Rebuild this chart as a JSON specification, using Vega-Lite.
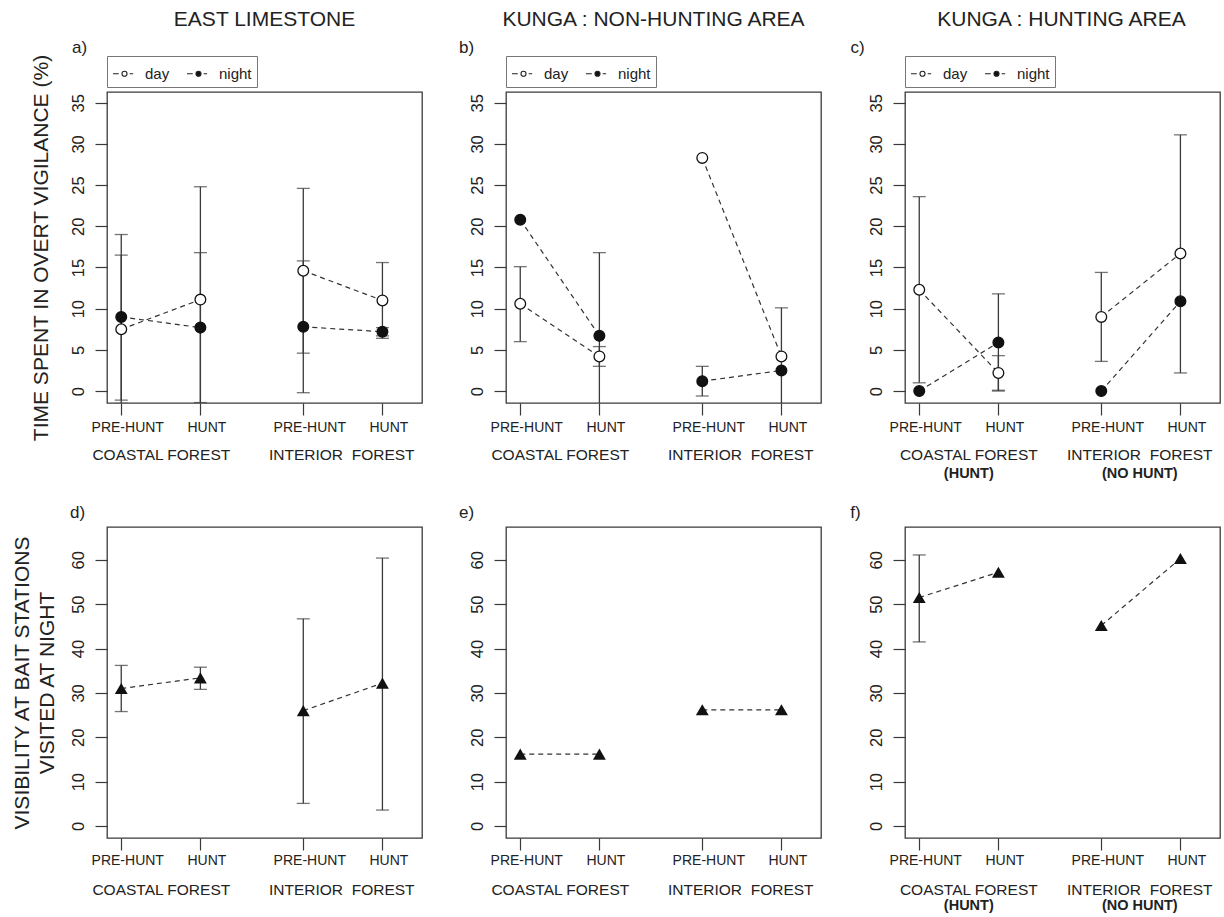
{
  "$schema": "https://vega.github.io/schema/vega-lite/v6.json",
  "background": "white",
  "padding": {"left": 10, "top": 8, "right": 0, "bottom": 0},
  "spacing": 21,
  "resolve": {"scale": {"fill": "independent"}, "legend": {"fill": "independent"}},
  "datasets": {
    "vig": [
      {"panel": "a", "forest": "COASTAL", "period": "PRE-HUNT", "pos": 1, "series": "day", "mean": 7.5, "lo": -1.5, "hi": 16.5},
      {"panel": "a", "forest": "COASTAL", "period": "HUNT", "pos": 2, "series": "day", "mean": 11.1, "lo": -2.6, "hi": 24.8},
      {"panel": "a", "forest": "INTERIOR", "period": "PRE-HUNT", "pos": 3.3, "series": "day", "mean": 14.6, "lo": 4.6, "hi": 24.6},
      {"panel": "a", "forest": "INTERIOR", "period": "HUNT", "pos": 4.3, "series": "day", "mean": 11.0, "lo": 6.4, "hi": 15.6},
      {"panel": "a", "forest": "COASTAL", "period": "PRE-HUNT", "pos": 1, "series": "night", "mean": 9.0, "lo": -1.1, "hi": 19.0},
      {"panel": "a", "forest": "COASTAL", "period": "HUNT", "pos": 2, "series": "night", "mean": 7.7, "lo": -1.4, "hi": 16.8},
      {"panel": "a", "forest": "INTERIOR", "period": "PRE-HUNT", "pos": 3.3, "series": "night", "mean": 7.8, "lo": -0.2, "hi": 15.8},
      {"panel": "a", "forest": "INTERIOR", "period": "HUNT", "pos": 4.3, "series": "night", "mean": 7.2, "lo": 6.7, "hi": 7.7},
      {"panel": "b", "forest": "COASTAL", "period": "PRE-HUNT", "pos": 1, "series": "day", "mean": 10.6, "lo": 6.0, "hi": 15.1},
      {"panel": "b", "forest": "COASTAL", "period": "HUNT", "pos": 2, "series": "day", "mean": 4.2, "lo": 3.0, "hi": 5.4},
      {"panel": "b", "forest": "INTERIOR", "period": "PRE-HUNT", "pos": 3.3, "series": "day", "mean": 28.3, "lo": null, "hi": null},
      {"panel": "b", "forest": "INTERIOR", "period": "HUNT", "pos": 4.3, "series": "day", "mean": 4.2, "lo": null, "hi": null},
      {"panel": "b", "forest": "COASTAL", "period": "PRE-HUNT", "pos": 1, "series": "night", "mean": 20.8, "lo": null, "hi": null},
      {"panel": "b", "forest": "COASTAL", "period": "HUNT", "pos": 2, "series": "night", "mean": 6.7, "lo": -3.4, "hi": 16.8},
      {"panel": "b", "forest": "INTERIOR", "period": "PRE-HUNT", "pos": 3.3, "series": "night", "mean": 1.2, "lo": -0.6, "hi": 3.0},
      {"panel": "b", "forest": "INTERIOR", "period": "HUNT", "pos": 4.3, "series": "night", "mean": 2.5, "lo": -5.1, "hi": 10.1},
      {"panel": "c", "forest": "COASTAL", "period": "PRE-HUNT", "pos": 1, "series": "day", "mean": 12.3, "lo": 1.0, "hi": 23.6},
      {"panel": "c", "forest": "COASTAL", "period": "HUNT", "pos": 2, "series": "day", "mean": 2.2, "lo": 0.1, "hi": 4.3},
      {"panel": "c", "forest": "INTERIOR", "period": "PRE-HUNT", "pos": 3.3, "series": "day", "mean": 9.0, "lo": 3.6, "hi": 14.4},
      {"panel": "c", "forest": "INTERIOR", "period": "HUNT", "pos": 4.3, "series": "day", "mean": 16.7, "lo": 2.2, "hi": 31.1},
      {"panel": "c", "forest": "COASTAL", "period": "PRE-HUNT", "pos": 1, "series": "night", "mean": 0.0, "lo": null, "hi": null},
      {"panel": "c", "forest": "COASTAL", "period": "HUNT", "pos": 2, "series": "night", "mean": 5.9, "lo": 0.0, "hi": 11.8},
      {"panel": "c", "forest": "INTERIOR", "period": "PRE-HUNT", "pos": 3.3, "series": "night", "mean": 0.0, "lo": null, "hi": null},
      {"panel": "c", "forest": "INTERIOR", "period": "HUNT", "pos": 4.3, "series": "night", "mean": 10.9, "lo": null, "hi": null}
    ],
    "vis": [
      {"panel": "d", "forest": "COASTAL", "period": "PRE-HUNT", "pos": 1, "mean": 31.0, "lo": 25.8, "hi": 36.2},
      {"panel": "d", "forest": "COASTAL", "period": "HUNT", "pos": 2, "mean": 33.4, "lo": 30.8, "hi": 35.8},
      {"panel": "d", "forest": "INTERIOR", "period": "PRE-HUNT", "pos": 3.3, "mean": 26.0, "lo": 5.1, "hi": 46.7},
      {"panel": "d", "forest": "INTERIOR", "period": "HUNT", "pos": 4.3, "mean": 32.2, "lo": 3.6, "hi": 60.4},
      {"panel": "e", "forest": "COASTAL", "period": "PRE-HUNT", "pos": 1, "mean": 16.2, "lo": null, "hi": null},
      {"panel": "e", "forest": "COASTAL", "period": "HUNT", "pos": 2, "mean": 16.2, "lo": null, "hi": null},
      {"panel": "e", "forest": "INTERIOR", "period": "PRE-HUNT", "pos": 3.3, "mean": 26.2, "lo": null, "hi": null},
      {"panel": "e", "forest": "INTERIOR", "period": "HUNT", "pos": 4.3, "mean": 26.2, "lo": null, "hi": null},
      {"panel": "f", "forest": "COASTAL", "period": "PRE-HUNT", "pos": 1, "mean": 51.5, "lo": 41.5, "hi": 61.1},
      {"panel": "f", "forest": "COASTAL", "period": "HUNT", "pos": 2, "mean": 57.2, "lo": null, "hi": null},
      {"panel": "f", "forest": "INTERIOR", "period": "PRE-HUNT", "pos": 3.3, "mean": 45.2, "lo": null, "hi": null},
      {"panel": "f", "forest": "INTERIOR", "period": "HUNT", "pos": 4.3, "mean": 60.3, "lo": null, "hi": null}
    ]
  },
  "vconcat": [
    {
      "bounds": "flush",
      "spacing": 84,
      "resolve": {"scale": {"fill": "independent"}, "legend": {"fill": "independent"}},
      "hconcat": [
        {
          "width": 315, "height": 311,
          "title": {"text": "EAST LIMESTONE", "dx": 0},
          "data": {"name": "vig"},
          "transform": [{"filter": "datum.panel == 'a'"}],
          "resolve": {"axis": {"x": "independent"}},
          "layer": [
            {"transform": [{"filter": "isValid(datum.lo)"}],
             "mark": {"type": "rule", "color": "#3a3a3a", "strokeWidth": 1.3, "clip": true},
             "encoding": {
               "x": {"field": "pos", "type": "quantitative", "scale": {"domain": [0.82, 4.8], "nice": false, "zero": false}, "axis": null},
               "y": {"field": "lo", "type": "quantitative", "scale": {"domain": [-1.45, 36.3], "nice": false, "zero": false}},
               "y2": {"field": "hi"}}},
            {"transform": [{"filter": "isValid(datum.lo)"}, {"fold": ["lo", "hi"], "as": ["end", "val"]}],
             "mark": {"type": "tick", "orient": "horizontal", "color": "#3a3a3a", "size": 13, "thickness": 1.3, "clip": true},
             "encoding": {
               "x": {"field": "pos", "type": "quantitative", "scale": {"domain": [0.82, 4.8], "nice": false, "zero": false}, "axis": null},
               "y": {"field": "val", "type": "quantitative", "scale": {"domain": [-1.45, 36.3], "nice": false, "zero": false}}}},
            {"mark": {"type": "line", "color": "#333333", "strokeDash": [5, 4], "strokeWidth": 1.2},
             "encoding": {
               "x": {"field": "pos", "type": "quantitative", "scale": {"domain": [0.82, 4.8], "nice": false, "zero": false},
                     "axis": {"orient": "bottom", "values": [1, 2, 3.3, 4.3], "labelExpr": "(datum.value == 1 || datum.value == 3.3) ? 'PRE-HUNT' : 'HUNT'", "tickSize": 12, "labelFontSize": 14, "labelPadding": 5, "labelOffset": 6, "labelOverlap": false, "labelFlush": false, "title": "a)", "titleX": -28, "titleY": -356, "titleFontSize": 17, "titleAlign": "center", "titleBaseline": "middle", "titleAngle": 0}},
               "y": {"field": "mean", "type": "quantitative", "scale": {"domain": [-1.45, 36.3], "nice": false, "zero": false},
                     "axis": {"values": [0, 5, 10, 15, 20, 25, 30, 35], "tickSize": 12, "labelAngle": -90, "labelFontSize": 16.5, "labelPadding": 9, "title": "TIME SPENT IN OVERT VIGILANCE (%)", "titleFontSize": 21, "titleX": -56, "titleY": 155.5, "titleAngle": -90, "titleAlign": "center", "titleBaseline": "bottom"}},
               "detail": [{"field": "forest", "type": "nominal"}, {"field": "series", "type": "nominal"}]}},
            {"mark": {"type": "point", "shape": "circle", "filled": true, "opacity": 1, "stroke": "#111111", "strokeWidth": 1.3, "size": 115},
             "encoding": {
               "x": {"field": "pos", "type": "quantitative", "scale": {"domain": [0.82, 4.8], "nice": false, "zero": false}, "axis": null},
               "y": {"field": "mean", "type": "quantitative", "scale": {"domain": [-1.45, 36.3], "nice": false, "zero": false}},
               "fill": {"field": "series", "type": "nominal", "scale": {"domain": ["day", "night"], "range": ["#ffffff", "#111111"]},
                        "legend": {"orient": "none", "legendX": 0, "legendY": -36, "direction": "horizontal", "title": null}}}},
            {"mark": {"type": "point", "opacity": 0},
             "encoding": {
               "x": {"field": "pos", "type": "quantitative", "scale": {"domain": [0.82, 4.8], "nice": false, "zero": false},
                     "axis": {"orient": "bottom", "values": [1.5, 3.78], "labelExpr": "datum.value < 2.5 ? 'COASTAL FOREST' : 'INTERIOR\u00a0 FOREST'", "ticks": false, "labelPadding": 44, "labelFontSize": 15.5, "labelOverlap": false, "labelFlush": false, "title": null}},
               "y": {"field": "mean", "type": "quantitative", "scale": {"domain": [-1.45, 36.3], "nice": false, "zero": false}}}}
          ]
        },
        {
          "width": 315, "height": 311,
          "title": {"text": "KUNGA : NON-HUNTING AREA", "dx": -10},
          "data": {"name": "vig"},
          "transform": [{"filter": "datum.panel == 'b'"}],
          "resolve": {"axis": {"x": "independent"}},
          "layer": [
            {"transform": [{"filter": "isValid(datum.lo)"}],
             "mark": {"type": "rule", "color": "#3a3a3a", "strokeWidth": 1.3, "clip": true},
             "encoding": {
               "x": {"field": "pos", "type": "quantitative", "scale": {"domain": [0.82, 4.8], "nice": false, "zero": false}, "axis": null},
               "y": {"field": "lo", "type": "quantitative", "scale": {"domain": [-1.45, 36.3], "nice": false, "zero": false}},
               "y2": {"field": "hi"}}},
            {"transform": [{"filter": "isValid(datum.lo)"}, {"fold": ["lo", "hi"], "as": ["end", "val"]}],
             "mark": {"type": "tick", "orient": "horizontal", "color": "#3a3a3a", "size": 13, "thickness": 1.3, "clip": true},
             "encoding": {
               "x": {"field": "pos", "type": "quantitative", "scale": {"domain": [0.82, 4.8], "nice": false, "zero": false}, "axis": null},
               "y": {"field": "val", "type": "quantitative", "scale": {"domain": [-1.45, 36.3], "nice": false, "zero": false}}}},
            {"mark": {"type": "line", "color": "#333333", "strokeDash": [5, 4], "strokeWidth": 1.2},
             "encoding": {
               "x": {"field": "pos", "type": "quantitative", "scale": {"domain": [0.82, 4.8], "nice": false, "zero": false},
                     "axis": {"orient": "bottom", "values": [1, 2, 3.3, 4.3], "labelExpr": "(datum.value == 1 || datum.value == 3.3) ? 'PRE-HUNT' : 'HUNT'", "tickSize": 12, "labelFontSize": 14, "labelPadding": 5, "labelOffset": 6, "labelOverlap": false, "labelFlush": false, "title": "b)", "titleX": -40, "titleY": -356, "titleFontSize": 17, "titleAlign": "center", "titleBaseline": "middle", "titleAngle": 0}},
               "y": {"field": "mean", "type": "quantitative", "scale": {"domain": [-1.45, 36.3], "nice": false, "zero": false},
                     "axis": {"values": [0, 5, 10, 15, 20, 25, 30, 35], "tickSize": 12, "labelAngle": -90, "labelFontSize": 16.5, "labelPadding": 9, "title": null}},
               "detail": [{"field": "forest", "type": "nominal"}, {"field": "series", "type": "nominal"}]}},
            {"mark": {"type": "point", "shape": "circle", "filled": true, "opacity": 1, "stroke": "#111111", "strokeWidth": 1.3, "size": 115},
             "encoding": {
               "x": {"field": "pos", "type": "quantitative", "scale": {"domain": [0.82, 4.8], "nice": false, "zero": false}, "axis": null},
               "y": {"field": "mean", "type": "quantitative", "scale": {"domain": [-1.45, 36.3], "nice": false, "zero": false}},
               "fill": {"field": "series", "type": "nominal", "scale": {"domain": ["day", "night"], "range": ["#ffffff", "#111111"]},
                        "legend": {"orient": "none", "legendX": 0, "legendY": -36, "direction": "horizontal", "title": null}}}},
            {"mark": {"type": "point", "opacity": 0},
             "encoding": {
               "x": {"field": "pos", "type": "quantitative", "scale": {"domain": [0.82, 4.8], "nice": false, "zero": false},
                     "axis": {"orient": "bottom", "values": [1.5, 3.78], "labelExpr": "datum.value < 2.5 ? 'COASTAL FOREST' : 'INTERIOR\u00a0 FOREST'", "ticks": false, "labelPadding": 44, "labelFontSize": 15.5, "labelOverlap": false, "labelFlush": false, "title": null}},
               "y": {"field": "mean", "type": "quantitative", "scale": {"domain": [-1.45, 36.3], "nice": false, "zero": false}}}}
          ]
        },
        {
          "width": 315, "height": 311,
          "title": {"text": "KUNGA : HUNTING AREA", "dx": -1},
          "data": {"name": "vig"},
          "transform": [{"filter": "datum.panel == 'c'"}],
          "resolve": {"axis": {"x": "independent"}},
          "layer": [
            {"transform": [{"filter": "isValid(datum.lo)"}],
             "mark": {"type": "rule", "color": "#3a3a3a", "strokeWidth": 1.3, "clip": true},
             "encoding": {
               "x": {"field": "pos", "type": "quantitative", "scale": {"domain": [0.82, 4.8], "nice": false, "zero": false}, "axis": null},
               "y": {"field": "lo", "type": "quantitative", "scale": {"domain": [-1.45, 36.3], "nice": false, "zero": false}},
               "y2": {"field": "hi"}}},
            {"transform": [{"filter": "isValid(datum.lo)"}, {"fold": ["lo", "hi"], "as": ["end", "val"]}],
             "mark": {"type": "tick", "orient": "horizontal", "color": "#3a3a3a", "size": 13, "thickness": 1.3, "clip": true},
             "encoding": {
               "x": {"field": "pos", "type": "quantitative", "scale": {"domain": [0.82, 4.8], "nice": false, "zero": false}, "axis": null},
               "y": {"field": "val", "type": "quantitative", "scale": {"domain": [-1.45, 36.3], "nice": false, "zero": false}}}},
            {"mark": {"type": "line", "color": "#333333", "strokeDash": [5, 4], "strokeWidth": 1.2},
             "encoding": {
               "x": {"field": "pos", "type": "quantitative", "scale": {"domain": [0.82, 4.8], "nice": false, "zero": false},
                     "axis": {"orient": "bottom", "values": [1, 2, 3.3, 4.3], "labelExpr": "(datum.value == 1 || datum.value == 3.3) ? 'PRE-HUNT' : 'HUNT'", "tickSize": 12, "labelFontSize": 14, "labelPadding": 5, "labelOffset": 6, "labelOverlap": false, "labelFlush": false, "title": "c)", "titleX": -48, "titleY": -356, "titleFontSize": 17, "titleAlign": "center", "titleBaseline": "middle", "titleAngle": 0}},
               "y": {"field": "mean", "type": "quantitative", "scale": {"domain": [-1.45, 36.3], "nice": false, "zero": false},
                     "axis": {"values": [0, 5, 10, 15, 20, 25, 30, 35], "tickSize": 12, "labelAngle": -90, "labelFontSize": 16.5, "labelPadding": 9, "title": null}},
               "detail": [{"field": "forest", "type": "nominal"}, {"field": "series", "type": "nominal"}]}},
            {"mark": {"type": "point", "shape": "circle", "filled": true, "opacity": 1, "stroke": "#111111", "strokeWidth": 1.3, "size": 115},
             "encoding": {
               "x": {"field": "pos", "type": "quantitative", "scale": {"domain": [0.82, 4.8], "nice": false, "zero": false}, "axis": null},
               "y": {"field": "mean", "type": "quantitative", "scale": {"domain": [-1.45, 36.3], "nice": false, "zero": false}},
               "fill": {"field": "series", "type": "nominal", "scale": {"domain": ["day", "night"], "range": ["#ffffff", "#111111"]},
                        "legend": {"orient": "none", "legendX": 0, "legendY": -36, "direction": "horizontal", "title": null}}}},
            {"mark": {"type": "point", "opacity": 0},
             "encoding": {
               "x": {"field": "pos", "type": "quantitative", "scale": {"domain": [0.82, 4.8], "nice": false, "zero": false},
                     "axis": {"orient": "bottom", "values": [1.62, 3.78], "labelExpr": "datum.value < 2.5 ? 'COASTAL FOREST' : 'INTERIOR\u00a0 FOREST'", "ticks": false, "labelPadding": 44, "labelFontSize": 15.5, "labelOverlap": false, "labelFlush": false, "title": null}},
               "y": {"field": "mean", "type": "quantitative", "scale": {"domain": [-1.45, 36.3], "nice": false, "zero": false}}}},
            {"mark": {"type": "point", "opacity": 0},
             "encoding": {
               "x": {"field": "pos", "type": "quantitative", "scale": {"domain": [0.82, 4.8], "nice": false, "zero": false},
                     "axis": {"orient": "bottom", "values": [1.62, 3.78], "labelExpr": "datum.value < 2.5 ? '(HUNT)' : '(NO HUNT)'", "ticks": false, "labelPadding": 63, "labelFontSize": 14.5, "labelFontWeight": "bold", "labelOverlap": false, "labelFlush": false, "title": null}},
               "y": {"field": "mean", "type": "quantitative", "scale": {"domain": [-1.45, 36.3], "nice": false, "zero": false}}}}
          ]
        }
      ]
    },
    {
      "bounds": "flush",
      "spacing": 84,
      "hconcat": [
        {
          "width": 315, "height": 311,
          "data": {"name": "vis"},
          "transform": [{"filter": "datum.panel == 'd'"}],
          "resolve": {"axis": {"x": "independent"}},
          "layer": [
            {"transform": [{"filter": "isValid(datum.lo)"}],
             "mark": {"type": "rule", "color": "#3a3a3a", "strokeWidth": 1.3, "clip": true},
             "encoding": {
               "x": {"field": "pos", "type": "quantitative", "scale": {"domain": [0.82, 4.8], "nice": false, "zero": false}, "axis": null},
               "y": {"field": "lo", "type": "quantitative", "scale": {"domain": [-2.7, 67.4], "nice": false, "zero": false}},
               "y2": {"field": "hi"}}},
            {"transform": [{"filter": "isValid(datum.lo)"}, {"fold": ["lo", "hi"], "as": ["end", "val"]}],
             "mark": {"type": "tick", "orient": "horizontal", "color": "#3a3a3a", "size": 13, "thickness": 1.3, "clip": true},
             "encoding": {
               "x": {"field": "pos", "type": "quantitative", "scale": {"domain": [0.82, 4.8], "nice": false, "zero": false}, "axis": null},
               "y": {"field": "val", "type": "quantitative", "scale": {"domain": [-2.7, 67.4], "nice": false, "zero": false}}}},
            {"mark": {"type": "line", "color": "#333333", "strokeDash": [5, 4], "strokeWidth": 1.2},
             "encoding": {
               "x": {"field": "pos", "type": "quantitative", "scale": {"domain": [0.82, 4.8], "nice": false, "zero": false},
                     "axis": {"orient": "bottom", "values": [1, 2, 3.3, 4.3], "labelExpr": "(datum.value == 1 || datum.value == 3.3) ? 'PRE-HUNT' : 'HUNT'", "tickSize": 12, "labelFontSize": 14, "labelPadding": 3, "labelOffset": 6, "labelOverlap": false, "labelFlush": false, "title": "d)", "titleX": -30, "titleY": -326, "titleFontSize": 17, "titleAlign": "center", "titleBaseline": "middle", "titleAngle": 0}},
               "y": {"field": "mean", "type": "quantitative", "scale": {"domain": [-2.7, 67.4], "nice": false, "zero": false},
                     "axis": {"values": [0, 10, 20, 30, 40, 50, 60], "tickSize": 12, "labelAngle": -90, "labelFontSize": 16.5, "labelPadding": 9, "title": ["VISIBILITY AT BAIT STATIONS", "VISITED AT NIGHT"], "titleFontSize": 21, "titleLineHeight": 25, "titleX": -75, "titleY": 155.5, "titleAngle": -90, "titleAlign": "center", "titleBaseline": "bottom"}},
               "detail": {"field": "forest", "type": "nominal"}}},
            {"mark": {"type": "point", "shape": "triangle-up", "filled": true, "opacity": 1, "color": "#111111", "size": 165},
             "encoding": {
               "x": {"field": "pos", "type": "quantitative", "scale": {"domain": [0.82, 4.8], "nice": false, "zero": false}, "axis": null},
               "y": {"field": "mean", "type": "quantitative", "scale": {"domain": [-2.7, 67.4], "nice": false, "zero": false}}}},
            {"mark": {"type": "point", "opacity": 0},
             "encoding": {
               "x": {"field": "pos", "type": "quantitative", "scale": {"domain": [0.82, 4.8], "nice": false, "zero": false},
                     "axis": {"orient": "bottom", "values": [1.5, 3.78], "labelExpr": "datum.value < 2.5 ? 'COASTAL FOREST' : 'INTERIOR\u00a0 FOREST'", "ticks": false, "labelPadding": 44, "labelFontSize": 15.5, "labelOverlap": false, "labelFlush": false, "title": null}},
               "y": {"field": "mean", "type": "quantitative", "scale": {"domain": [-2.7, 67.4], "nice": false, "zero": false}}}}
          ]
        },
        {
          "width": 315, "height": 311,
          "data": {"name": "vis"},
          "transform": [{"filter": "datum.panel == 'e'"}],
          "resolve": {"axis": {"x": "independent"}},
          "layer": [
            {"mark": {"type": "line", "color": "#333333", "strokeDash": [5, 4], "strokeWidth": 1.2},
             "encoding": {
               "x": {"field": "pos", "type": "quantitative", "scale": {"domain": [0.82, 4.8], "nice": false, "zero": false},
                     "axis": {"orient": "bottom", "values": [1, 2, 3.3, 4.3], "labelExpr": "(datum.value == 1 || datum.value == 3.3) ? 'PRE-HUNT' : 'HUNT'", "tickSize": 12, "labelFontSize": 14, "labelPadding": 3, "labelOffset": 6, "labelOverlap": false, "labelFlush": false, "title": "e)", "titleX": -40, "titleY": -326, "titleFontSize": 17, "titleAlign": "center", "titleBaseline": "middle", "titleAngle": 0}},
               "y": {"field": "mean", "type": "quantitative", "scale": {"domain": [-2.7, 67.4], "nice": false, "zero": false},
                     "axis": {"values": [0, 10, 20, 30, 40, 50, 60], "tickSize": 12, "labelAngle": -90, "labelFontSize": 16.5, "labelPadding": 9, "title": null}},
               "detail": {"field": "forest", "type": "nominal"}}},
            {"mark": {"type": "point", "shape": "triangle-up", "filled": true, "opacity": 1, "color": "#111111", "size": 165},
             "encoding": {
               "x": {"field": "pos", "type": "quantitative", "scale": {"domain": [0.82, 4.8], "nice": false, "zero": false}, "axis": null},
               "y": {"field": "mean", "type": "quantitative", "scale": {"domain": [-2.7, 67.4], "nice": false, "zero": false}}}},
            {"mark": {"type": "point", "opacity": 0},
             "encoding": {
               "x": {"field": "pos", "type": "quantitative", "scale": {"domain": [0.82, 4.8], "nice": false, "zero": false},
                     "axis": {"orient": "bottom", "values": [1.5, 3.78], "labelExpr": "datum.value < 2.5 ? 'COASTAL FOREST' : 'INTERIOR\u00a0 FOREST'", "ticks": false, "labelPadding": 44, "labelFontSize": 15.5, "labelOverlap": false, "labelFlush": false, "title": null}},
               "y": {"field": "mean", "type": "quantitative", "scale": {"domain": [-2.7, 67.4], "nice": false, "zero": false}}}}
          ]
        },
        {
          "width": 315, "height": 311,
          "data": {"name": "vis"},
          "transform": [{"filter": "datum.panel == 'f'"}],
          "resolve": {"axis": {"x": "independent"}},
          "layer": [
            {"transform": [{"filter": "isValid(datum.lo)"}],
             "mark": {"type": "rule", "color": "#3a3a3a", "strokeWidth": 1.3, "clip": true},
             "encoding": {
               "x": {"field": "pos", "type": "quantitative", "scale": {"domain": [0.82, 4.8], "nice": false, "zero": false}, "axis": null},
               "y": {"field": "lo", "type": "quantitative", "scale": {"domain": [-2.7, 67.4], "nice": false, "zero": false}},
               "y2": {"field": "hi"}}},
            {"transform": [{"filter": "isValid(datum.lo)"}, {"fold": ["lo", "hi"], "as": ["end", "val"]}],
             "mark": {"type": "tick", "orient": "horizontal", "color": "#3a3a3a", "size": 13, "thickness": 1.3, "clip": true},
             "encoding": {
               "x": {"field": "pos", "type": "quantitative", "scale": {"domain": [0.82, 4.8], "nice": false, "zero": false}, "axis": null},
               "y": {"field": "val", "type": "quantitative", "scale": {"domain": [-2.7, 67.4], "nice": false, "zero": false}}}},
            {"mark": {"type": "line", "color": "#333333", "strokeDash": [5, 4], "strokeWidth": 1.2},
             "encoding": {
               "x": {"field": "pos", "type": "quantitative", "scale": {"domain": [0.82, 4.8], "nice": false, "zero": false},
                     "axis": {"orient": "bottom", "values": [1, 2, 3.3, 4.3], "labelExpr": "(datum.value == 1 || datum.value == 3.3) ? 'PRE-HUNT' : 'HUNT'", "tickSize": 12, "labelFontSize": 14, "labelPadding": 3, "labelOffset": 6, "labelOverlap": false, "labelFlush": false, "title": "f)", "titleX": -50, "titleY": -326, "titleFontSize": 17, "titleAlign": "center", "titleBaseline": "middle", "titleAngle": 0}},
               "y": {"field": "mean", "type": "quantitative", "scale": {"domain": [-2.7, 67.4], "nice": false, "zero": false},
                     "axis": {"values": [0, 10, 20, 30, 40, 50, 60], "tickSize": 12, "labelAngle": -90, "labelFontSize": 16.5, "labelPadding": 9, "title": null}},
               "detail": {"field": "forest", "type": "nominal"}}},
            {"mark": {"type": "point", "shape": "triangle-up", "filled": true, "opacity": 1, "color": "#111111", "size": 165},
             "encoding": {
               "x": {"field": "pos", "type": "quantitative", "scale": {"domain": [0.82, 4.8], "nice": false, "zero": false}, "axis": null},
               "y": {"field": "mean", "type": "quantitative", "scale": {"domain": [-2.7, 67.4], "nice": false, "zero": false}}}},
            {"mark": {"type": "point", "opacity": 0},
             "encoding": {
               "x": {"field": "pos", "type": "quantitative", "scale": {"domain": [0.82, 4.8], "nice": false, "zero": false},
                     "axis": {"orient": "bottom", "values": [1.62, 3.78], "labelExpr": "datum.value < 2.5 ? 'COASTAL FOREST' : 'INTERIOR\u00a0 FOREST'", "ticks": false, "labelPadding": 44, "labelFontSize": 15.5, "labelOverlap": false, "labelFlush": false, "title": null}},
               "y": {"field": "mean", "type": "quantitative", "scale": {"domain": [-2.7, 67.4], "nice": false, "zero": false}}}},
            {"mark": {"type": "point", "opacity": 0},
             "encoding": {
               "x": {"field": "pos", "type": "quantitative", "scale": {"domain": [0.82, 4.8], "nice": false, "zero": false},
                     "axis": {"orient": "bottom", "values": [1.62, 3.78], "labelExpr": "datum.value < 2.5 ? '(HUNT)' : '(NO HUNT)'", "ticks": false, "labelPadding": 60, "labelFontSize": 14.5, "labelFontWeight": "bold", "labelOverlap": false, "labelFlush": false, "title": null}},
               "y": {"field": "mean", "type": "quantitative", "scale": {"domain": [-2.7, 67.4], "nice": false, "zero": false}}}}
          ]
        }
      ]
    }
  ],
  "config": {
    "font": "Liberation Sans",
    "view": {"stroke": "#3a3a3a", "strokeWidth": 1.3},
    "axis": {"grid": false, "domain": false, "tickColor": "#3a3a3a", "tickWidth": 1.2, "labelColor": "#222222", "titleColor": "#222222", "titleFontWeight": "normal", "labelFont": "Liberation Sans", "titleFont": "Liberation Sans"},
    "title": {"fontSize": 21, "fontWeight": "normal", "color": "#222222", "font": "Liberation Sans", "anchor": "middle", "frame": "group", "offset": 8},
    "legend": {"strokeColor": "#777777", "padding": 5, "labelFontSize": 15, "labelColor": "#222222", "labelFont": "Liberation Sans", "symbolType": "M-1,0L-0.5,0M-0.22,0A0.22,0.22,0,1,0,0.22,0A0.22,0.22,0,1,0,-0.22,0M0.45,0L0.75,0", "symbolSize": 529, "symbolStrokeColor": "#222222", "symbolStrokeWidth": 1.1, "labelOffset": 8, "columnPadding": 14}
  }
}
